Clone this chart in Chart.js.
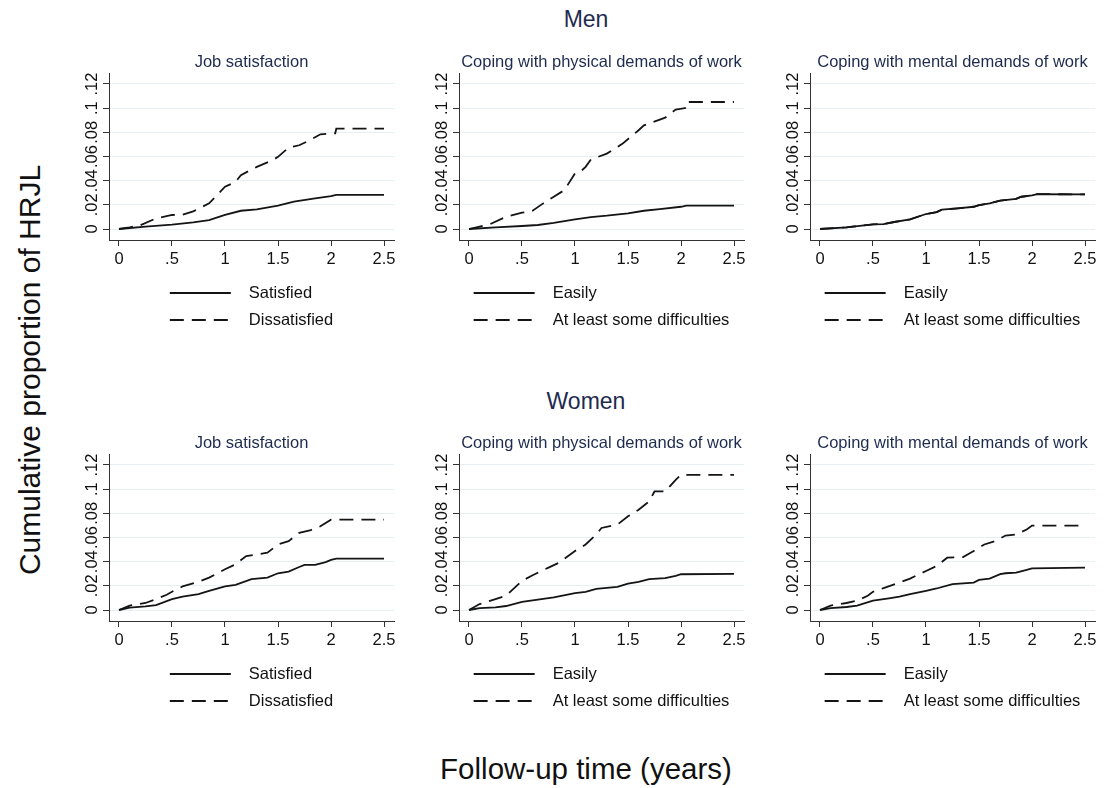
<!DOCTYPE html>
<html>
<head>
<meta charset="utf-8">
<script src="https://cdn.jsdelivr.net/npm/chart.js@4"></script>
<style>
html, body { margin: 0; padding: 0; background: #ffffff; }
#wrap { position: relative; width: 1114px; height: 788px; overflow: hidden; font-family: "Liberation Sans", Arial, sans-serif; }
.t { position: absolute; white-space: nowrap; line-height: 1; text-align: center; }
canvas { position: absolute; }
</style>
</head>
<body>
<div id="wrap"></div>
<script>
// ---------- tick values / labels ----------
const xTickValues = [0, 0.5, 1, 1.5, 2, 2.5];
const xTickLabels = ['0', '.5', '1', '1.5', '2', '2.5'];
const yTickValues = [0, 0.02, 0.04, 0.06, 0.08, 0.1, 0.12];
const yTickLabels = ['0', '.02', '.04', '.06', '.08', '.1', '.12'];

// ---------- text ----------
const rowTitles = ['Men', 'Women'];
const panelTitles = ['Job satisfaction', 'Coping with physical demands of work', 'Coping with mental demands of work'];
const jobLegend = ['Satisfied', 'Dissatisfied'];
const copingLegend = ['Easily', 'At least some difficulties'];
const yAxisTitle = 'Cumulative proportion of HRJL';
const xAxisTitle = 'Follow-up time (years)';

// ---------- data (follow-up years, cumulative proportion) ----------
// Men - Job satisfaction
const menJobSolidX = [0, 0.25, 0.5, 0.7, 0.85, 1.0, 1.15, 1.3, 1.5, 1.65, 1.85, 2.0, 2.05, 2.5];
const menJobSolidY = [0, 0.002, 0.0036, 0.0055, 0.0074, 0.0116, 0.0151, 0.0162, 0.0193, 0.0226, 0.0253, 0.0272, 0.0283, 0.0283];
const menJobDashX = [0, 0.1, 0.2, 0.35, 0.5, 0.6, 0.7, 0.85, 1.0, 1.1, 1.15, 1.3, 1.45, 1.5, 1.6, 1.7, 1.8, 1.9, 2.04, 2.05, 2.5];
const menJobDashY = [0, 0.0014, 0.003, 0.0088, 0.0116, 0.0118, 0.0146, 0.0212, 0.035, 0.039, 0.0446, 0.0514, 0.057, 0.0597, 0.0674, 0.0693, 0.0735, 0.0784, 0.0792, 0.083, 0.083];
// Men - Physical demands
const menPhysSolidX = [0, 0.25, 0.5, 0.65, 0.8, 1.0, 1.15, 1.3, 1.5, 1.65, 1.8, 2.0, 2.05, 2.5];
const menPhysSolidY = [0, 0.0014, 0.0025, 0.0033, 0.005, 0.008, 0.0099, 0.011, 0.0129, 0.0151, 0.0165, 0.0184, 0.0193, 0.0193];
const menPhysDashX = [0, 0.1, 0.2, 0.35, 0.5, 0.6, 0.7, 0.8, 0.9, 1.0, 1.05, 1.1, 1.15, 1.3, 1.45, 1.6, 1.65, 1.8, 1.85, 1.95, 2.04, 2.05, 2.5];
const menPhysDashY = [0, 0.002, 0.0041, 0.0102, 0.0135, 0.0151, 0.0212, 0.0267, 0.0322, 0.046, 0.0473, 0.0514, 0.0575, 0.0624, 0.0707, 0.0817, 0.0858, 0.0905, 0.0921, 0.0988, 0.1001, 0.1051, 0.1051];
// Men - Mental demands (both curves coincide)
const menMentSolidX = [0, 0.25, 0.5, 0.6, 0.7, 0.85, 1.0, 1.1, 1.15, 1.3, 1.45, 1.5, 1.6, 1.7, 1.85, 1.9, 2.0, 2.05, 2.5];
const menMentSolidY = [0, 0.0014, 0.0039, 0.0041, 0.0058, 0.008, 0.0124, 0.014, 0.016, 0.0171, 0.0184, 0.0198, 0.0212, 0.0234, 0.025, 0.0267, 0.0278, 0.0289, 0.0286];
const menMentDashX = [0, 0.25, 0.5, 0.6, 0.7, 0.85, 1.0, 1.1, 1.15, 1.3, 1.45, 1.5, 1.6, 1.7, 1.85, 1.9, 2.0, 2.05, 2.5];
const menMentDashY = [0, 0.0014, 0.0039, 0.0041, 0.0058, 0.008, 0.0124, 0.014, 0.016, 0.0171, 0.0184, 0.0198, 0.0212, 0.0234, 0.025, 0.0267, 0.0278, 0.0289, 0.0286];
// Women - Job satisfaction
const womJobSolidX = [0, 0.1, 0.25, 0.35, 0.5, 0.6, 0.75, 0.85, 1.0, 1.1, 1.25, 1.4, 1.5, 1.6, 1.7, 1.75, 1.85, 1.95, 2.0, 2.05, 2.5];
const womJobSolidY = [0, 0.0019, 0.003, 0.0041, 0.009, 0.011, 0.0132, 0.0159, 0.0195, 0.0208, 0.0255, 0.0268, 0.0304, 0.0318, 0.0356, 0.0373, 0.0373, 0.0397, 0.0414, 0.0425, 0.0425];
const womJobDashX = [0, 0.1, 0.25, 0.35, 0.45, 0.5, 0.6, 0.75, 0.85, 1.0, 1.1, 1.2, 1.3, 1.4, 1.5, 1.6, 1.7, 1.8, 1.9, 2.0, 2.5];
const womJobDashY = [0, 0.0036, 0.0058, 0.009, 0.0126, 0.0151, 0.0195, 0.0233, 0.0268, 0.0337, 0.0378, 0.0447, 0.046, 0.0474, 0.0542, 0.057, 0.0638, 0.0658, 0.0693, 0.0748, 0.0748];
// Women - Physical demands
const womPhysSolidX = [0, 0.1, 0.25, 0.35, 0.5, 0.65, 0.8, 1.0, 1.1, 1.2, 1.4, 1.5, 1.6, 1.7, 1.85, 1.95, 2.0, 2.5];
const womPhysSolidY = [0, 0.0016, 0.0022, 0.0033, 0.0068, 0.0085, 0.0104, 0.014, 0.015, 0.0175, 0.0192, 0.0219, 0.0233, 0.0255, 0.0263, 0.0282, 0.0296, 0.0299];
const womPhysDashX = [0, 0.1, 0.25, 0.35, 0.5, 0.6, 0.75, 0.85, 1.0, 1.1, 1.2, 1.25, 1.4, 1.5, 1.6, 1.7, 1.75, 1.85, 1.95, 2.0, 2.5];
const womPhysDashY = [0, 0.0049, 0.009, 0.0118, 0.0241, 0.0288, 0.0351, 0.0392, 0.0488, 0.0542, 0.0625, 0.0679, 0.0707, 0.0775, 0.083, 0.0899, 0.0981, 0.0981, 0.1077, 0.1118, 0.1118];
// Women - Mental demands
const womMentSolidX = [0, 0.1, 0.25, 0.35, 0.5, 0.65, 0.75, 0.85, 1.0, 1.1, 1.25, 1.45, 1.5, 1.6, 1.7, 1.75, 1.85, 1.95, 2.0, 2.5];
const womMentSolidY = [0, 0.0016, 0.0025, 0.0036, 0.0077, 0.0096, 0.011, 0.0132, 0.0159, 0.0178, 0.0214, 0.0227, 0.0249, 0.026, 0.0296, 0.0304, 0.031, 0.0332, 0.0345, 0.0351];
const womMentDashX = [0, 0.1, 0.25, 0.35, 0.45, 0.5, 0.6, 0.75, 0.85, 1.0, 1.1, 1.2, 1.35, 1.45, 1.55, 1.65, 1.75, 1.85, 1.95, 2.0, 2.5];
const womMentDashY = [0, 0.0036, 0.0058, 0.0077, 0.0118, 0.0151, 0.0181, 0.0227, 0.026, 0.0323, 0.0364, 0.0433, 0.0438, 0.0488, 0.0542, 0.057, 0.0616, 0.0625, 0.0666, 0.0699, 0.0699];

// ---------- layout ----------
const FAMILY = '"Liberation Sans", Arial, sans-serif';
const wrap = document.getElementById('wrap');
const colLeft = [50, 400, 751];
const rowTop = [40, 421];
const CW = 350, CH = 300;

function addText(txt, cx, top, size, color, rotate) {
  const d = document.createElement('div');
  d.className = 't';
  d.textContent = txt;
  d.style.fontSize = size + 'px';
  d.style.color = color;
  d.style.width = '600px';
  d.style.left = (cx - 300) + 'px';
  d.style.top = top + 'px';
  if (rotate) { d.style.transform = 'rotate(-90deg)'; d.style.height = size + 'px'; }
  wrap.appendChild(d);
}
addText(rowTitles[0], 586, 7.5, 23, '#1e2b4f');
addText(rowTitles[1], 586, 390, 23, '#1e2b4f');
addText(yAxisTitle, 30, 369.5 - 15, 30, '#111111', true);
addText(xAxisTitle, 586, 754, 29.5, '#111111');

function pts(xs, ys) { return xs.map((x, i) => ({ x: x, y: ys[i] })); }

const stataPlugin = {
  id: 'stata',
  afterDraw(chart, args, opts) {
    const ctx = chart.ctx, ca = chart.chartArea, ys = chart.scales.y;
    ctx.save();
    // rotated y tick labels
    ctx.fillStyle = '#111111';
    ctx.font = '16.5px ' + FAMILY;
    ctx.textAlign = 'center';
    ctx.textBaseline = 'middle';
    yTickValues.forEach((v, i) => {
      const py = ys.getPixelForValue(v);
      ctx.save();
      ctx.translate(ca.left - 17, py);
      ctx.rotate(-Math.PI / 2);
      ctx.fillText(yTickLabels[i], 0, 0);
      ctx.restore();
    });
    // panel title
    ctx.fillStyle = '#1e2b4f';
    ctx.textBaseline = 'alphabetic';
    ctx.fillText(opts.title, (ca.left + ca.right) / 2, ca.top - 6);
    // legend
    const ds = chart.data.datasets;
    ctx.font = '16.5px ' + FAMILY;
    let maxW = 0;
    ds.forEach(d => { maxW = Math.max(maxW, ctx.measureText(d.label).width); });
    const lineLen = 61, gap = 18;
    const blockW = lineLen + gap + maxW;
    const x0 = (ca.left + ca.right) / 2 - blockW / 2;
    ds.forEach((d, i) => {
      const y = ca.bottom + 53 + i * 27;
      ctx.strokeStyle = d.borderColor;
      ctx.lineWidth = d.borderWidth;
      ctx.setLineDash(d.borderDash || []);
      ctx.beginPath();
      ctx.moveTo(x0, y);
      ctx.lineTo(x0 + lineLen, y);
      ctx.stroke();
      ctx.setLineDash([]);
      ctx.fillStyle = '#111111';
      ctx.textAlign = 'left';
      ctx.textBaseline = 'middle';
      ctx.fillText(d.label, x0 + lineLen + gap, y);
    });
    ctx.restore();
  }
};

const panels = [
  { r: 0, c: 0, title: panelTitles[0], labels: jobLegend, s: pts(menJobSolidX, menJobSolidY), d: pts(menJobDashX, menJobDashY) },
  { r: 0, c: 1, title: panelTitles[1], labels: copingLegend, s: pts(menPhysSolidX, menPhysSolidY), d: pts(menPhysDashX, menPhysDashY) },
  { r: 0, c: 2, title: panelTitles[2], labels: copingLegend, s: pts(menMentSolidX, menMentSolidY), d: pts(menMentDashX, menMentDashY) },
  { r: 1, c: 0, title: panelTitles[0], labels: jobLegend, s: pts(womJobSolidX, womJobSolidY), d: pts(womJobDashX, womJobDashY) },
  { r: 1, c: 1, title: panelTitles[1], labels: copingLegend, s: pts(womPhysSolidX, womPhysSolidY), d: pts(womPhysDashX, womPhysDashY) },
  { r: 1, c: 2, title: panelTitles[2], labels: copingLegend, s: pts(womMentSolidX, womMentSolidY), d: pts(womMentDashX, womMentDashY) }
];

panels.forEach(p => {
  const cv = document.createElement('canvas');
  cv.width = CW; cv.height = CH;
  cv.style.width = CW + 'px'; cv.style.height = CH + 'px';
  cv.style.left = colLeft[p.c] + 'px';
  cv.style.top = rowTop[p.r] + 'px';
  wrap.appendChild(cv);
  new Chart(cv.getContext('2d'), {
    type: 'line',
    data: {
      datasets: [
        { label: p.labels[0], data: p.s, borderColor: '#141414', borderWidth: 1.8, borderDash: [], pointRadius: 0, fill: false, tension: 0 },
        { label: p.labels[1], data: p.d, borderColor: '#141414', borderWidth: 1.8, borderDash: [14, 8], pointRadius: 0, fill: false, tension: 0 }
      ]
    },
    options: {
      responsive: false,
      animation: false,
      devicePixelRatio: 1,
      layout: { padding: { top: 33, right: 6, left: 0, bottom: 0 } },
      plugins: { legend: { display: false }, tooltip: { enabled: false }, stata: { title: p.title } },
      scales: {
        x: {
          type: 'linear', min: -0.0943, max: 2.5943,
          afterBuildTicks: s => { s.ticks = xTickValues.map(v => ({ value: v })); },
          afterFit: s => { s.height = 100; },
          grid: { drawOnChartArea: false, drawTicks: true, tickLength: 6, tickColor: '#333333', tickWidth: 1 },
          border: { display: true, color: '#333333', width: 1 },
          ticks: { padding: 4, color: '#111111', font: { family: FAMILY, size: 16.5 }, maxRotation: 0, minRotation: 0, autoSkip: false,
                   callback: (v, i) => xTickLabels[i] }
        },
        y: {
          type: 'linear', min: -0.0091, max: 0.1291,
          afterBuildTicks: s => { s.ticks = yTickValues.map(v => ({ value: v })); },
          afterFit: s => { s.width = 59; },
          grid: { color: '#e6eff1', lineWidth: 1, drawTicks: true, tickLength: 6, tickColor: '#333333', tickWidth: 1 },
          border: { display: true, color: '#333333', width: 1 },
          ticks: { display: false }
        }
      }
    },
    plugins: [stataPlugin]
  });
});
</script>
</body>
</html>
